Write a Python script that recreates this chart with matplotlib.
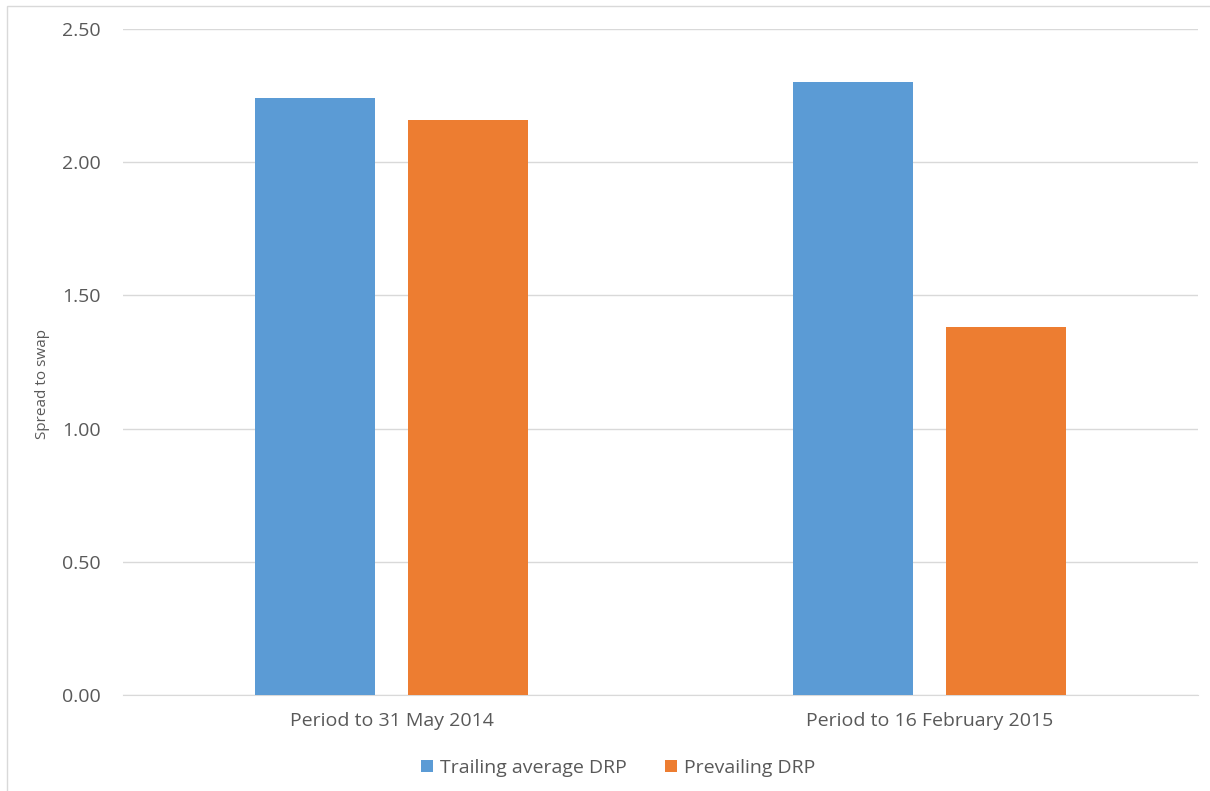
import numpy as np
import matplotlib.pyplot as plt
from matplotlib.patches import Rectangle

categories = ["Period to 31 May 2014", "Period to 16 February 2015"]
trailing = [2.24, 2.30]
prevailing = [2.16, 1.38]
series_names = ["Trailing average DRP", "Prevailing DRP"]

blue = "#5b9bd5"
orange = "#ed7d31"
text_col = "#595959"

plt.rcParams['font.family'] = ['Open Sans', 'DejaVu Sans']

fig = plt.figure(figsize=(12.1, 7.91), dpi=100)
ax = fig.add_axes([123/1210, 1 - 695/791, (1198-123)/1210, (695-29)/791])

x = np.arange(len(categories))
w = 0.223
off = 0.142
ax.bar(x - off, trailing, w, color=blue, label=series_names[0], zorder=3)
ax.bar(x + off, prevailing, w, color=orange, label=series_names[1], zorder=3)

ax.set_xlim(-0.5, 1.5)
ax.set_ylim(0, 2.5)
yt = np.arange(0, 2.51, 0.5)
ax.set_yticks(yt)
ax.set_yticklabels([f"{v:.2f}" for v in yt])
ax.set_xticks(x)
ax.set_xticklabels(categories)
ax.grid(axis='y', color='#d9d9d9', linewidth=1, zorder=0)
for s in ['top', 'right', 'left']:
    ax.spines[s].set_visible(False)
ax.spines['bottom'].set_color('#d9d9d9')
ax.tick_params(axis='both', length=0, labelsize=14, colors=text_col)
ax.tick_params(axis='x', pad=12)
ax.tick_params(axis='y', pad=16)

fig.text(43/1210, 1 - 384/791, "Spread to swap", rotation=90, fontsize=11,
         color=text_col, ha='center', va='center')

fig.legend(loc='center', bbox_to_anchor=(618/1210, 1 - 768/791), ncol=2, frameon=False,
           fontsize=14, labelcolor=text_col, handlelength=0.6, handleheight=0.6,
           handletextpad=0.35, columnspacing=2.0)

fig.patches.append(Rectangle((7/1210, -0.01), 1.1, 1 - 6/791 + 0.01, transform=fig.transFigure,
                             fill=False, edgecolor='#d9d9d9', linewidth=1))

fig.savefig("out.png", dpi=100)
